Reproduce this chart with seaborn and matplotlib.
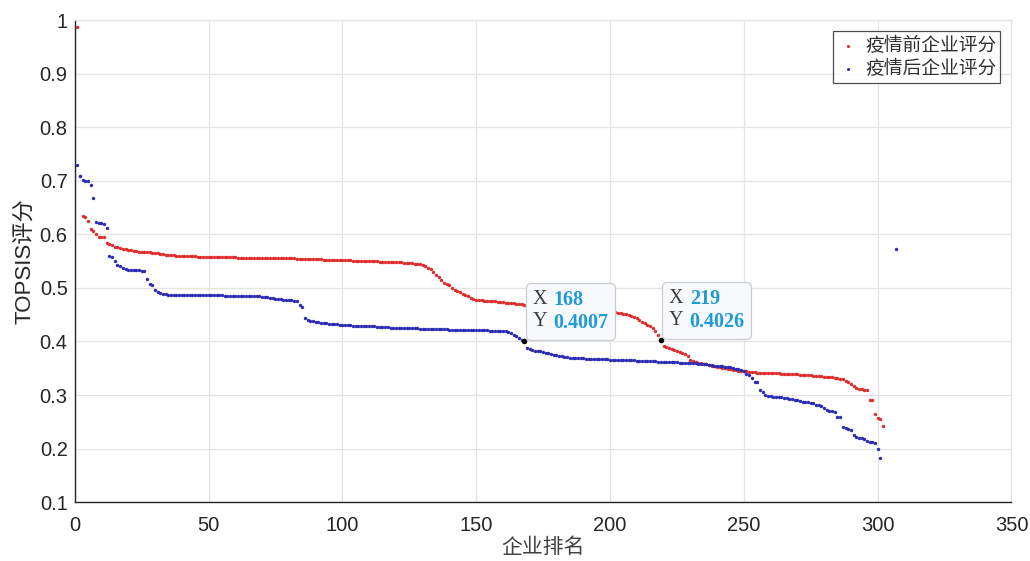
import matplotlib
matplotlib.use("Agg")
import matplotlib.pyplot as plt
from matplotlib.offsetbox import AnnotationBbox, HPacker, TextArea
import pandas as pd
import seaborn as sns

# ---------------- data ----------------
score_before = [
    0.987, 0.709, 0.635, 0.632, 0.625, 0.610, 0.606, 0.600, 0.596, 0.595,
    0.595, 0.583, 0.582, 0.581, 0.577, 0.576, 0.575, 0.573, 0.572, 0.571,
    0.570, 0.569, 0.569, 0.568, 0.568, 0.567, 0.567, 0.567, 0.566, 0.566,
    0.565, 0.564, 0.563, 0.562, 0.562, 0.561, 0.561, 0.560, 0.560, 0.560,
    0.559, 0.559, 0.559, 0.559, 0.559, 0.558, 0.558, 0.558, 0.558, 0.558,
    0.558, 0.558, 0.557, 0.557, 0.557, 0.557, 0.557, 0.557, 0.557, 0.557,
    0.556, 0.556, 0.556, 0.556, 0.556, 0.556, 0.556, 0.556, 0.556, 0.556,
    0.556, 0.556, 0.555, 0.555, 0.555, 0.555, 0.555, 0.555, 0.555, 0.555,
    0.555, 0.555, 0.554, 0.554, 0.554, 0.554, 0.554, 0.554, 0.554, 0.554,
    0.554, 0.554, 0.553, 0.553, 0.553, 0.553, 0.553, 0.553, 0.552, 0.552,
    0.552, 0.552, 0.552, 0.551, 0.551, 0.551, 0.551, 0.551, 0.550, 0.550,
    0.550, 0.550, 0.550, 0.549, 0.549, 0.549, 0.549, 0.549, 0.548, 0.548,
    0.548, 0.548, 0.547, 0.547, 0.546, 0.546, 0.545, 0.545, 0.544, 0.543,
    0.541, 0.538, 0.535, 0.530, 0.524, 0.521, 0.514, 0.510, 0.508, 0.505,
    0.500, 0.496, 0.494, 0.492, 0.489, 0.486, 0.484, 0.482, 0.480, 0.478,
    0.477, 0.477, 0.476, 0.476, 0.475, 0.475, 0.475, 0.474, 0.474, 0.473,
    0.472, 0.472, 0.471, 0.471, 0.470, 0.470, 0.470, 0.469, 0.469, 0.469,
    0.468, 0.468, 0.467, 0.467, 0.466, 0.466, 0.466, 0.465, 0.465, 0.464,
    0.464, 0.463, 0.463, 0.462, 0.462, 0.461, 0.461, 0.460, 0.460, 0.459,
    0.459, 0.459, 0.458, 0.458, 0.457, 0.457, 0.457, 0.456, 0.456, 0.456,
    0.455, 0.455, 0.454, 0.453, 0.452, 0.451, 0.449, 0.447, 0.445, 0.443,
    0.440, 0.437, 0.434, 0.431, 0.428, 0.426, 0.420, 0.412, 0.4026, 0.391,
    0.389, 0.387, 0.386, 0.384, 0.382, 0.380, 0.378, 0.376, 0.373, 0.366,
    0.363, 0.361, 0.360, 0.359, 0.358, 0.357, 0.356, 0.355, 0.354, 0.353,
    0.352, 0.351, 0.350, 0.349, 0.348, 0.347, 0.346, 0.345, 0.345, 0.344,
    0.344, 0.343, 0.343, 0.343, 0.342, 0.342, 0.342, 0.342, 0.342, 0.341,
    0.341, 0.341, 0.341, 0.340, 0.340, 0.340, 0.340, 0.339, 0.339, 0.339,
    0.338, 0.338, 0.338, 0.337, 0.337, 0.336, 0.336, 0.335, 0.335, 0.334,
    0.334, 0.333, 0.333, 0.332, 0.331, 0.330, 0.329, 0.327, 0.324, 0.320,
    0.317, 0.314, 0.312, 0.311, 0.310, 0.309, 0.290, 0.290, 0.264, 0.257,
    0.255, 0.243,
]
rank_before = list(range(1, len(score_before) + 1))

score_after = [
    0.729, 0.709, 0.701, 0.700, 0.699, 0.692, 0.667, 0.623, 0.622, 0.621,
    0.620, 0.612, 0.560, 0.557, 0.551, 0.543, 0.540, 0.537, 0.535, 0.534,
    0.534, 0.533, 0.533, 0.533, 0.532, 0.532, 0.517, 0.507, 0.506, 0.497,
    0.493, 0.490, 0.489, 0.488, 0.487, 0.487, 0.487, 0.487, 0.487, 0.486,
    0.486, 0.486, 0.486, 0.486, 0.486, 0.486, 0.486, 0.486, 0.486, 0.486,
    0.486, 0.486, 0.486, 0.486, 0.486, 0.485, 0.485, 0.485, 0.485, 0.485,
    0.485, 0.485, 0.485, 0.484, 0.484, 0.484, 0.484, 0.484, 0.484, 0.483,
    0.483, 0.483, 0.482, 0.481, 0.480, 0.479, 0.479, 0.478, 0.478, 0.477,
    0.477, 0.476, 0.475, 0.468, 0.465, 0.443, 0.441, 0.439, 0.438, 0.437,
    0.436, 0.435, 0.434, 0.434, 0.433, 0.433, 0.432, 0.432, 0.431, 0.431,
    0.430, 0.430, 0.430, 0.429, 0.429, 0.429, 0.429, 0.428, 0.428, 0.428,
    0.428, 0.428, 0.427, 0.427, 0.427, 0.427, 0.427, 0.426, 0.426, 0.426,
    0.426, 0.426, 0.426, 0.425, 0.425, 0.425, 0.425, 0.425, 0.424, 0.424,
    0.424, 0.424, 0.424, 0.423, 0.423, 0.423, 0.423, 0.423, 0.423, 0.422,
    0.422, 0.422, 0.422, 0.422, 0.422, 0.422, 0.422, 0.421, 0.421, 0.421,
    0.421, 0.421, 0.421, 0.421, 0.420, 0.420, 0.420, 0.420, 0.420, 0.420,
    0.419, 0.418, 0.416, 0.413, 0.410, 0.406, 0.403, 0.4007, 0.387, 0.385,
    0.384, 0.383, 0.383, 0.382, 0.380, 0.379, 0.378, 0.377, 0.375, 0.374,
    0.373, 0.372, 0.371, 0.371, 0.370, 0.370, 0.369, 0.369, 0.369, 0.369,
    0.368, 0.368, 0.368, 0.368, 0.368, 0.367, 0.367, 0.367, 0.367, 0.366,
    0.366, 0.366, 0.366, 0.366, 0.365, 0.365, 0.365, 0.365, 0.365, 0.364,
    0.364, 0.364, 0.364, 0.363, 0.363, 0.363, 0.363, 0.362, 0.362, 0.362,
    0.362, 0.361, 0.361, 0.361, 0.361, 0.360, 0.360, 0.360, 0.360, 0.360,
    0.359, 0.359, 0.358, 0.358, 0.357, 0.357, 0.356, 0.356, 0.355, 0.355,
    0.354, 0.354, 0.353, 0.352, 0.352, 0.351, 0.349, 0.348, 0.346, 0.344,
    0.339, 0.338, 0.332, 0.325, 0.325, 0.309, 0.306, 0.300, 0.299, 0.298,
    0.297, 0.297, 0.296, 0.296, 0.295, 0.294, 0.293, 0.292, 0.291, 0.290,
    0.288, 0.287, 0.287, 0.287, 0.286, 0.285, 0.281, 0.281, 0.280, 0.276,
    0.272, 0.271, 0.270, 0.269, 0.258, 0.258, 0.241, 0.239, 0.236, 0.234,
    0.225, 0.222, 0.220, 0.219, 0.217, 0.215, 0.213, 0.212, 0.211, 0.200,
    0.182, 0.572,
]
rank_after = list(range(1, 302)) + [307]

series_names = ["疫情前企业评分", "疫情后企业评分"]
x_ticks = [0, 50, 100, 150, 200, 250, 300, 350]
x_tick_labels = ["0", "50", "100", "150", "200", "250", "300", "350"]
y_ticks = [0.1, 0.2, 0.3, 0.4, 0.5, 0.6, 0.7, 0.8, 0.9, 1.0]
y_tick_labels = ["0.1", "0.2", "0.3", "0.4", "0.5", "0.6", "0.7", "0.8", "0.9", "1"]
tip_ranks = [168, 219]          # data tips: rank and which series
tip_series = [1, 0]
x_label = "企业排名"
y_label = "TOPSIS评分"

# ---------------- styling ----------------
sns.set_style("white")
plt.rcParams["font.family"] = ["Liberation Sans", "Noto Sans CJK SC", "DejaVu Sans"]

RED = "#e02b2b"
BLUE = "#2b2bb5"
AX_COLOR = "#262626"

df_before = pd.DataFrame({"rank": rank_before, "score": score_before})
df_after = pd.DataFrame({"rank": rank_after, "score": score_after})

fig = plt.figure(figsize=(10.30, 5.61), dpi=100)
ax = fig.add_axes([0.0725, 0.105, 0.9095, 0.859])

sns.scatterplot(data=df_before, x="rank", y="score", ax=ax, color=RED, s=6,
                linewidth=0, marker="o", label=series_names[0], zorder=3)
sns.scatterplot(data=df_after, x="rank", y="score", ax=ax, color=BLUE, s=6,
                linewidth=0, marker="o", label=series_names[1], zorder=3)

ax.set_xlim(x_ticks[0], x_ticks[-1])
ax.set_ylim(y_ticks[0], y_ticks[-1])
ax.set_xticks(x_ticks)
ax.set_xticklabels(x_tick_labels)
ax.set_yticks(y_ticks)
ax.set_yticklabels(y_tick_labels)

ax.grid(True, color="#e4e4e4", linewidth=0.9, zorder=0)
ax.set_axisbelow(True)
for side in ["left", "bottom"]:
    ax.spines[side].set_color(AX_COLOR)
    ax.spines[side].set_linewidth(1.0)
for side in ["top", "right"]:
    ax.spines[side].set_color("#e4e4e4")
    ax.spines[side].set_linewidth(0.9)

ax.tick_params(axis="both", direction="in", length=6.5, width=1.0,
               color=AX_COLOR, labelcolor=AX_COLOR, labelsize=14.5)
ax.tick_params(axis="x", pad=10)
ax.tick_params(axis="y", pad=5)

ax.set_xlabel(x_label, fontsize=15, color="#404040",
              family=["Noto Sans CJK SC", "DejaVu Sans"], labelpad=1)
ax.set_ylabel(y_label, fontsize=16, color=AX_COLOR, labelpad=3)

leg = ax.legend(loc="upper right", frameon=True, fancybox=False,
                prop={"family": ["Noto Sans CJK SC", "DejaVu Sans"], "size": 13.5},
                handletextpad=0.3, borderpad=0.2, labelspacing=0.1,
                handlelength=1.2, markerscale=0.9, borderaxespad=0.6)
leg.get_frame().set_edgecolor("#202020")
leg.get_frame().set_linewidth(0.9)
for t in leg.get_texts():
    t.set_color("#303030")

# ---------------- data tips ----------------
all_scores = [dict(zip(rank_before, score_before)), dict(zip(rank_after, score_after))]
serif = ["Liberation Serif", "DejaVu Serif"]
for r, si in zip(tip_ranks, tip_series):
    v = all_scores[si][r]
    sns.scatterplot(x=[r], y=[v], ax=ax, color="black", s=16, linewidth=0, zorder=5,
                    legend=False)
    keys = TextArea("X\nY", textprops=dict(fontsize=14.5, family=serif,
                                             color="#3c3c3c", linespacing=1.25))
    vals = TextArea(f"{r}\n{v:.4f}",
                    textprops=dict(fontsize=14.5, family=serif, fontweight="bold",
                                   color="#1f9ad8", linespacing=1.25))
    pack = HPacker(children=[keys, vals], align="top", pad=0, sep=4.5)
    ab = AnnotationBbox(pack, (r, v), xybox=(5.8, 5.5), xycoords="data",
                        boxcoords="offset points", box_alignment=(0, 0),
                        frameon=True, pad=0.33, fontsize=14.5, zorder=6,
                        bboxprops=dict(boxstyle="round,pad=0.33,rounding_size=0.25",
                                       fc="#f7f9fc", ec="#c9ccd0", lw=0.9))
    ax.add_artist(ab)

fig.savefig("out.png", dpi=100)
